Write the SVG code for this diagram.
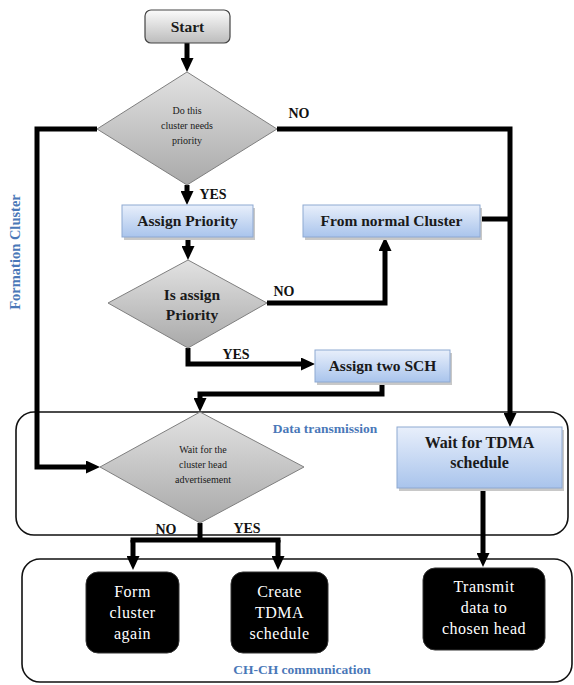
<svg xmlns="http://www.w3.org/2000/svg" width="574" height="685" viewBox="0 0 574 685">
<defs>
<linearGradient id="gBlue" x1="0" y1="0" x2="0" y2="1"><stop offset="0" stop-color="#e8effb"/><stop offset="1" stop-color="#a9c4ec"/></linearGradient>
<linearGradient id="gGray" x1="0" y1="0" x2="0" y2="1"><stop offset="0" stop-color="#e2e2e2"/><stop offset="1" stop-color="#a9a9a9"/></linearGradient>
<linearGradient id="gStart" x1="0" y1="0" x2="0" y2="1"><stop offset="0" stop-color="#fbfbfb"/><stop offset="1" stop-color="#bcbcbc"/></linearGradient>
<marker id="arr" markerUnits="userSpaceOnUse" markerWidth="14" markerHeight="13" viewBox="0 0 14 13" refX="4" refY="6.5" orient="auto"><path d="M0,0 L14,6.5 L0,13 z" fill="#000"/></marker>
<style>
.blue{fill:url(#gBlue);stroke:#8ea9d2;stroke-width:1}
.shadow{fill:#c8c8c8}
.dia{fill:url(#gGray);stroke:#7f7f7f;stroke-width:1}
.blk{fill:#000;stroke:#333;stroke-width:1}
.zone{fill:none;stroke:#111;stroke-width:1.6}
.conn{fill:none;stroke:#000;stroke-width:5}
.t{font-family:"Liberation Serif",serif;font-weight:bold;font-size:15.5px;fill:#1a1a1a;text-anchor:middle}
.ts{font-family:"Liberation Serif",serif;font-size:10px;fill:#1a1a1a;text-anchor:middle}
.tw{font-family:"Liberation Serif",serif;font-size:16px;fill:#fff;text-anchor:middle;letter-spacing:0.5px}
.lab{font-family:"Liberation Serif",serif;font-weight:bold;font-size:14px;fill:#111;text-anchor:middle}
.zl{font-family:"Liberation Serif",serif;font-weight:bold;font-size:13.5px;fill:#4a78b8;text-anchor:middle}
</style>
</defs>
<rect width="574" height="685" fill="#fff"/>

<g id="zone-data">
<rect class="zone" x="16" y="412" width="552" height="123" rx="18"/>
<text class="zl" x="325" y="433">Data transmission</text>
</g>
<g id="zone-chch">
<rect class="zone" x="22" y="559" width="550" height="123" rx="18"/>
<text class="zl" x="302" y="674">CH-CH communication</text>
</g>
<g id="zone-formation">
<text class="zl" transform="translate(20,252) rotate(-90)" style="font-size:14.5px">Formation Cluster</text>
</g>

<g id="connectors">
<path class="conn" d="M187,43 V62" marker-end="url(#arr)"/>
<path class="conn" d="M97,129 H37 V467 H90" marker-end="url(#arr)"/>
<path class="conn" d="M277,129 H510 V417" marker-end="url(#arr)"/>
<path class="conn" d="M187,185 V195" marker-end="url(#arr)"/>
<path class="conn" d="M480,219 H510"/>
<path class="conn" d="M188,237 V250" marker-end="url(#arr)"/>
<path class="conn" d="M267,303 H385 V247" marker-end="url(#arr)"/>
<path class="conn" d="M188,348 V364 H305" marker-end="url(#arr)"/>
<path class="conn" d="M382,382 V394 H200 V402" marker-end="url(#arr)"/>
<path class="conn" d="M200,523 V540"/>
<path class="conn" d="M133,540 V560" marker-end="url(#arr)"/>
<path class="conn" d="M278,540 V560" marker-end="url(#arr)"/>
<path class="conn" d="M130.5,540 H280.5"/>
<path class="conn" d="M483,488 V557" marker-end="url(#arr)"/>
<text class="lab" x="299" y="118">NO</text>
<text class="lab" x="213" y="199">YES</text>
<text class="lab" x="284" y="296">NO</text>
<text class="lab" x="236" y="359">YES</text>
<text class="lab" x="166" y="534">NO</text>
<text class="lab" x="247" y="533">YES</text>
</g>

<g id="start">
<rect x="145" y="10" width="85" height="33" rx="6" fill="url(#gStart)" stroke="#444" stroke-width="1.2"/>
<text class="t" x="187.5" y="32">Start</text>
</g>

<g id="needs-priority">
<polygon class="dia" points="187,72 277,129 187,185 97,129"/>
<text class="ts" x="187" y="114">Do this</text>
<text class="ts" x="187" y="129">cluster needs</text>
<text class="ts" x="187" y="144">priority</text>
</g>

<g id="assign-priority">
<rect class="shadow" x="124" y="208" width="131" height="32"/>
<rect class="blue" x="122" y="205" width="131" height="32"/>
<text class="t" x="187.5" y="226">Assign Priority</text>
</g>

<g id="normal-cluster">
<rect class="shadow" x="305" y="208" width="177" height="32"/>
<rect class="blue" x="303" y="205" width="177" height="32"/>
<text class="t" x="391.5" y="226">From normal Cluster</text>
</g>

<g id="is-assign">
<polygon class="dia" points="188,260 267,303 188,348 108,303"/>
<text class="t" x="192" y="300">Is assign</text>
<text class="t" x="192" y="320">Priority</text>
</g>

<g id="assign-sch">
<rect class="shadow" x="317" y="353" width="135" height="32"/>
<rect class="blue" x="315" y="350" width="135" height="32"/>
<text class="t" x="382.5" y="371">Assign two SCH</text>
</g>

<g id="wait-advert">
<polygon class="dia" points="200,412 304,467 200,523 100,467"/>
<text class="ts" x="203" y="453">Wait for the</text>
<text class="ts" x="203" y="468">cluster head</text>
<text class="ts" x="203" y="483">advertisement</text>
</g>

<g id="wait-tdma">
<rect class="shadow" x="399" y="430" width="165" height="61"/>
<rect class="blue" x="397" y="427" width="165" height="61"/>
<text class="t" x="479.5" y="448" style="font-size:16px">Wait for TDMA</text>
<text class="t" x="479.5" y="468" style="font-size:16px">schedule</text>
</g>

<g id="form-cluster">
<rect class="blk" x="86" y="572" width="93" height="81" rx="12"/>
<text class="tw" x="132.5" y="597">Form</text>
<text class="tw" x="132.5" y="618">cluster</text>
<text class="tw" x="132.5" y="639">again</text>
</g>

<g id="create-tdma">
<rect class="blk" x="231" y="572" width="97" height="81" rx="12"/>
<text class="tw" x="279.5" y="597">Create</text>
<text class="tw" x="279.5" y="618">TDMA</text>
<text class="tw" x="279.5" y="639">schedule</text>
</g>

<g id="transmit">
<rect class="blk" x="423" y="568" width="122" height="82" rx="12"/>
<text class="tw" x="484" y="592">Transmit</text>
<text class="tw" x="484" y="613">data to</text>
<text class="tw" x="484" y="634">chosen head</text>
</g>
</svg>
